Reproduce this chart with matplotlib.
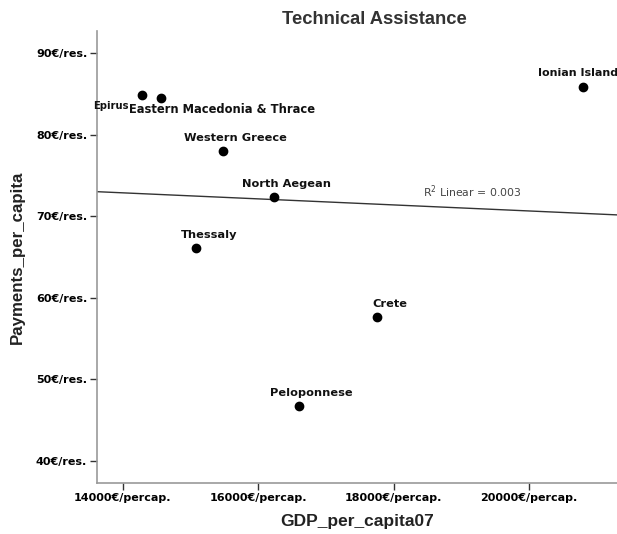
import numpy as np
import matplotlib
matplotlib.use("Agg")
import matplotlib.pyplot as plt

regions = ["Epirus", "Eastern Macedonia & Thrace", "Western Greece", "North Aegean",
           "Thessaly", "Peloponnese", "Crete", "Ionian Island"]
gdp = np.array([14280, 14560, 15476, 16229, 15077, 16598, 17749, 20797])
payments = np.array([84.85, 84.5, 78.0, 72.35, 66.1, 46.7, 57.65, 85.8])

xticks = [14000, 16000, 18000, 20000]
yticks = [40, 50, 60, 70, 80, 90]

# label offsets in pixels (dx, dy, ha, size)
offsets = {
    "Epirus": (-13, -11, "right", 7.2),
    "Eastern Macedonia & Thrace": (-32, -12, "left", 8.3),
    "Ionian Island": (-5, 14, "center", 8.0),
}

fig = plt.figure(figsize=(6.17, 5.34), dpi=100)
ax = fig.add_axes([0.157, 0.0955, 0.843, 0.8465])

ax.scatter(gdp, payments, s=36, color="black", zorder=3)

# linear fit
slope, intercept = np.polyfit(gdp, payments, 1)
xl = np.array([13616, 21299])
ax.plot(xl, slope * xl + intercept, color="#333333", lw=1.0, zorder=2)
r2 = np.corrcoef(gdp, payments)[0, 1] ** 2
ax.text(19166, 72.97, "R$^2$ Linear = %.3f" % 0.003, fontsize=7.8,
        color="#444444", ha="center", va="center", family="DejaVu Sans")

for name, x, y in zip(regions, gdp, payments):
    dx, dy, ha, fs = offsets.get(name, (13, 13, "center", 8.2))
    ax.annotate(name, (x, y), xytext=(dx, dy), textcoords="offset pixels",
                ha=ha, va="center", fontsize=fs, fontweight="bold", color="#111111",
                annotation_clip=False)

ax.set_xlim(13616, 21299)
ax.set_ylim(37.3, 92.7)
ax.set_xticks(xticks)
ax.set_xticklabels(["%d€/percap." % v for v in xticks])
ax.set_yticks(yticks)
ax.set_yticklabels(["%d€/res." % v for v in yticks])
for lab in ax.get_xticklabels() + ax.get_yticklabels():
    lab.set_fontweight("bold")
    lab.set_fontsize(8)
ax.tick_params(axis="both", length=5, width=1, color="#333333", pad=2)

for s in ["top", "right"]:
    ax.spines[s].set_visible(False)
for s in ["left", "bottom"]:
    ax.spines[s].set_color("#999999")
    ax.spines[s].set_linewidth(1.2)

ax.set_title("Technical Assistance", fontsize=13.2, fontweight="bold",
             family="Liberation Sans", color="#333333", x=0.533, pad=5)
ax.set_xlabel("GDP_per_capita07", fontsize=12.5, fontweight="bold",
              family="Liberation Sans", color="#222222", labelpad=8)
ax.set_ylabel("Payments_per_capita", fontsize=12.2, fontweight="bold",
              family="Liberation Sans", color="#222222", labelpad=8)

fig.savefig("out.png", dpi=100)
